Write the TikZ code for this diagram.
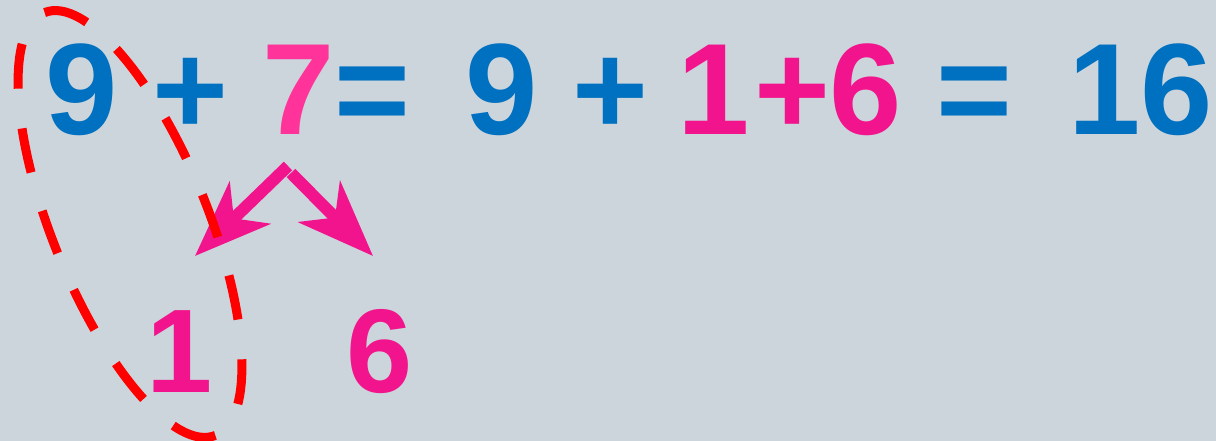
\documentclass[tikz,border=0pt]{standalone}
\usepackage{fontspec}
\setmainfont{Liberation Sans}
\usetikzlibrary{arrows.meta}
\definecolor{sumblue}{HTML}{0070C0}
\definecolor{sevenpink}{HTML}{FF3399}
\definecolor{partpink}{HTML}{F2148C}
\definecolor{slate}{HTML}{CCD5DC}
\definecolor{ringred}{HTML}{FF0000}
\begin{document}
\begin{tikzpicture}[x=1pt, y=1pt,
    digit/.style={inner sep=0pt, anchor=base, font=\fontsize{130}{130}\selectfont\bfseries},
    smalldigit/.style={inner sep=0pt, anchor=base, font=\fontsize{119}{119}\selectfont\bfseries},
    splitarrow/.style={partpink, line width=12pt,
        -{Stealth[length=76pt, width=58pt, inset=22pt]}},
    ringdash/.style={ringred, line width=9pt, dash pattern=on 45pt off 40pt, dash phase=45pt}]
    % background
    \fill[slate] (0,0) rectangle (1216,441);
    \useasboundingbox (0,0) rectangle (1216,441);

    % top line: 9 + 7 = 9 + 1+6 = 16
    \node (nineA) at (82,306) [digit, sumblue] {9};
    \node (plusA) at (190,306) [digit, sumblue] {+};
    \node (seven) at (299,306) [digit, sevenpink] {7};
    \node (eqA) at (372,306) [digit, sumblue] {=};
    \node (nineB) at (502,306) [digit, sumblue] {9};
    \node (plusB) at (610,306) [digit, sumblue] {+};
    \node (oneB) at (714,306) [digit, partpink] {1};
    \node (plusC) at (792,306) [digit, partpink] {+};
    \node (sixB) at (866,306) [digit, partpink] {6};
    \node (eqB) at (974,306) [digit, sumblue] {=};
    \node (total) at (1141,306) [digit, sumblue] {16};

    % the split of 7
    \node (oneC) at (180,48) [smalldigit, partpink] {1};
    \node (sixC) at (380,48) [smalldigit, partpink] {6};
    \coordinate (apex) at (288,275);
    \coordinate (apexR) at (291,268);
    \coordinate (tipL) at (195,185);
    \coordinate (tipR) at (373,185);
    \draw[splitarrow] (apex) -- (tipL);
    \draw[splitarrow] (apexR) -- (tipR);

    % ring round 9 and 1
    \draw[ringdash, rotate around={-68:(130,217)}] (130,217) ellipse [x radius=228pt, y radius=78pt];
\end{tikzpicture}
\end{document}
